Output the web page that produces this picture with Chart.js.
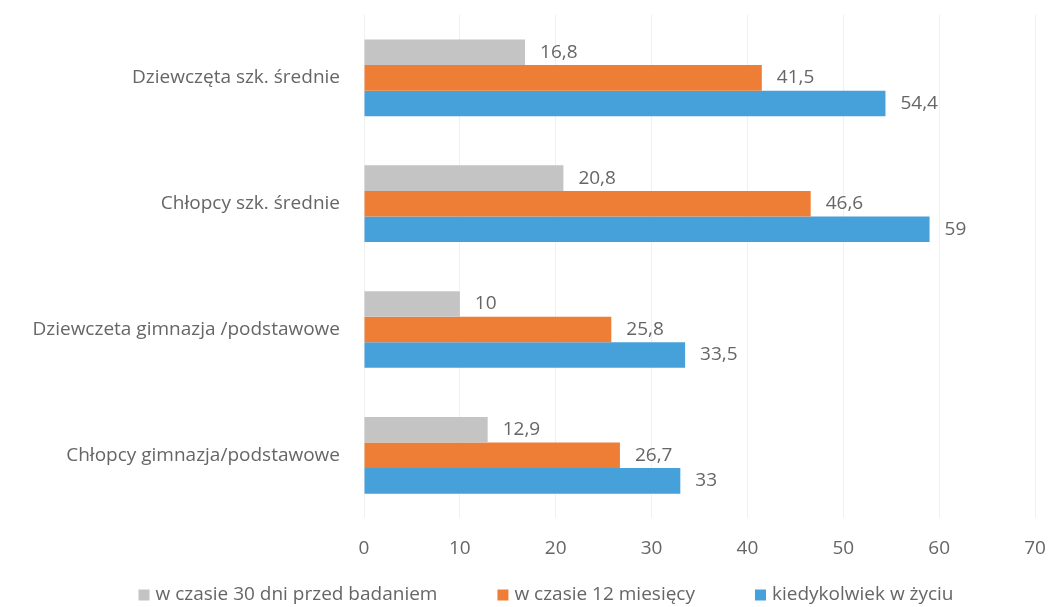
<!DOCTYPE html>
<html>
<head>
<meta charset="utf-8">
<script src="https://cdn.jsdelivr.net/npm/chart.js@4"></script>
<style>
  html, body { margin: 0; padding: 0; background: #fff; }
  #wrap { width: 1049px; height: 607px; position: relative; }
</style>
</head>
<body>
<div id="wrap"><canvas id="chart"></canvas></div>
<script>
// categories, top to bottom
const categories = [
  'Dziewczęta szk. średnie',
  'Chłopcy szk. średnie',
  'Dziewczeta gimnazja /podstawowe',
  'Chłopcy gimnazja/podstawowe'
];

// series values
const last30Days = [16.8, 20.8, 10, 12.9];
const last12Months = [41.5, 46.6, 25.8, 26.7];
const everInLife = [54.4, 59, 33.5, 33];

const seriesNames = [
  'w czasie 30 dni przed badaniem',
  'w czasie 12 miesięcy',
  'kiedykolwiek w życiu'
];

// x axis ticks
const xMin = 0;
const xMax = 70;
const xStep = 10;

const FONT = '"Open Sans", "Noto Sans", sans-serif';
const TEXT = '#666666';
const SIZE = 19;

// value labels at the end of each bar, with a decimal comma
const valueLabels = {
  id: 'valueLabels',
  afterDatasetsDraw(chart) {
    const ctx = chart.ctx;
    ctx.save();
    ctx.font = SIZE + 'px ' + FONT;
    ctx.fillStyle = TEXT;
    ctx.textAlign = 'left';
    ctx.textBaseline = 'middle';
    chart.data.datasets.forEach((ds, i) => {
      chart.getDatasetMeta(i).data.forEach((bar, j) => {
        const txt = String(ds.data[j]).replace('.', ',');
        ctx.fillText(txt, bar.x + 15, bar.y);
      });
    });
    ctx.restore();
  }
};

// legend drawn by hand so the wide spacing of the original can be kept
const bottomLegend = {
  id: 'bottomLegend',
  afterDraw(chart) {
    const ctx = chart.ctx;
    const box = 11, gapText = 6, gapItem = 60;
    ctx.save();
    ctx.font = SIZE + 'px ' + FONT;
    ctx.textBaseline = 'middle';
    ctx.textAlign = 'left';
    const items = chart.data.datasets.map(ds => ({
      text: ds.label,
      color: ds.backgroundColor,
      w: box + gapText + ctx.measureText(ds.label).width
    }));
    const total = items.reduce((s, it) => s + it.w, 0) + gapItem * (items.length - 1);
    let x = 546 - total / 2;
    const y = 595;
    items.forEach(it => {
      ctx.fillStyle = it.color;
      ctx.fillRect(x, y - box / 2, box, box);
      ctx.fillStyle = TEXT;
      ctx.fillText(it.text, x + box + gapText, y);
      x += it.w + gapItem;
    });
    ctx.restore();
  }
};

new Chart(document.getElementById('chart'), {
  type: 'bar',
  data: {
    labels: categories,
    datasets: [
      { label: seriesNames[0], data: last30Days, backgroundColor: '#c4c4c4' },
      { label: seriesNames[1], data: last12Months, backgroundColor: '#ee7e36' },
      { label: seriesNames[2], data: everInLife, backgroundColor: '#46a1da' }
    ]
  },
  options: {
    indexAxis: 'y',
    responsive: true,
    maintainAspectRatio: false,
    animation: false,
    datasets: {
      bar: { categoryPercentage: 0.61, barPercentage: 1.0 }
    },
    layout: { padding: { top: 15, right: 14, bottom: 28, left: 0 } },
    scales: {
      x: {
        min: xMin,
        max: xMax,
        ticks: {
          stepSize: xStep,
          color: TEXT,
          font: { family: FONT, size: SIZE },
          padding: 19
        },
        grid: { color: '#f0f0f0', drawTicks: false },
        border: { display: false },
        afterFit(scale) {
          scale.paddingLeft = 0;
          scale.paddingRight = 0;
        }
      },
      y: {
        ticks: {
          color: TEXT,
          font: { family: FONT, size: SIZE },
          padding: 24
        },
        grid: { display: false, drawTicks: false },
        border: { display: false },
        afterFit(scale) {
          scale.width = 364;
          scale.paddingTop = 0;
          scale.paddingBottom = 0;
        }
      }
    },
    plugins: {
      legend: { display: false },
      tooltip: { enabled: false }
    }
  },
  plugins: [valueLabels, bottomLegend]
});
</script>
</body>
</html>
